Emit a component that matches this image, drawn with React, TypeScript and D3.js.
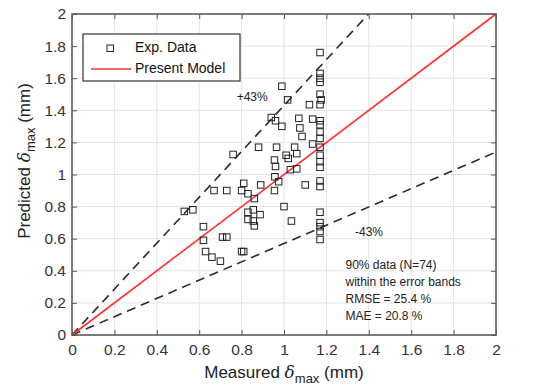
import React, { useEffect, useRef } from 'react';
import * as d3 from 'd3';

// measured vs predicted delta max (mm)
const measured = [
  0.53, 0.57, 0.62, 0.62, 0.63, 0.66, 0.70, 0.71, 0.73, 0.80, 0.81, 0.67, 0.73, 0.80, 0.81, 0.83, 0.86, 0.89,
  0.83, 0.855, 0.887, 0.83, 0.855, 0.86,
  0.955, 0.975, 1.0, 1.035, 1.10,
  0.76, 0.88, 0.965, 1.05, 1.06, 1.01, 1.02, 0.955, 0.96, 1.03, 1.06, 0.957, 1.135,
  0.94, 0.96, 0.99, 0.99, 1.017, 1.12, 1.07, 1.075, 1.085, 1.135,
  1.17, 1.17, 1.17, 1.17, 1.17, 1.175, 1.17, 1.17, 1.17, 1.17, 1.17, 1.17, 1.17, 1.17, 1.17, 1.17, 1.17, 1.17,
  1.17, 1.17, 1.17, 1.17,
];
const predicted = [
  0.77, 0.78, 0.675, 0.59, 0.52, 0.485, 0.46, 0.61, 0.61, 0.52, 0.52, 0.90, 0.90, 0.90, 0.945, 0.88, 0.85, 0.935,
  0.765, 0.78, 0.75, 0.72, 0.71, 0.68,
  0.90, 0.955, 0.80, 0.71, 0.935,
  1.125, 1.17, 1.17, 1.17, 1.13, 1.12, 1.10, 1.09, 1.05, 1.03, 1.035, 0.986, 1.19,
  1.355, 1.335, 1.30, 1.55, 1.465, 1.435, 1.35, 1.29, 1.237, 1.345,
  1.76, 1.63, 1.60, 1.575, 1.50, 1.465, 1.435, 1.335, 1.31, 1.265, 1.225, 1.17, 1.12, 1.08, 1.045, 0.96, 0.925, 0.765,
  0.70, 0.675, 0.645, 0.595,
];
const ticks = [0, 0.2, 0.4, 0.6, 0.8, 1, 1.2, 1.4, 1.6, 1.8, 2];
const legendLabels = ['Exp. Data', 'Present Model'];
const bandFactors = [1.43, 0.57];
const bandLabels = ['+43%', '-43%'];
const statsLines = ['90% data (N=74)', 'within the error bands', 'RMSE = 25.4 %', 'MAE = 20.8 %'];

export default function App() {
  const ref = useRef<SVGSVGElement>(null);

  useEffect(() => {
    if (!ref.current) return;
    const svg = d3.select(ref.current);
    svg.selectAll('*').remove();

    const W = 542, H = 389;
    const margin = { top: 14, right: 46, bottom: 54, left: 72 };
    const width = W - margin.left - margin.right;
    const height = H - margin.top - margin.bottom;
    const font = '"Liberation Sans", Arial, sans-serif';

    svg.attr('width', W).attr('height', H).attr('viewBox', `0 0 ${W} ${H}`);
    svg.append('rect').attr('width', W).attr('height', H).attr('fill', '#fff');

    const x = d3.scaleLinear().domain([0, 2]).range([0, width]);
    const y = d3.scaleLinear().domain([0, 2]).range([height, 0]);

    const g = svg.append('g').attr('transform', `translate(${margin.left},${margin.top})`);

    // grid
    g.selectAll('.gx').data(ticks.slice(1, -1)).enter().append('line')
      .attr('x1', d => x(d)).attr('x2', d => x(d)).attr('y1', 0).attr('y2', height)
      .attr('stroke', '#e3e3e3').attr('stroke-width', 1);
    g.selectAll('.gy').data(ticks.slice(1, -1)).enter().append('line')
      .attr('y1', d => y(d)).attr('y2', d => y(d)).attr('x1', 0).attr('x2', width)
      .attr('stroke', '#e3e3e3').attr('stroke-width', 1);

    // axes with inner ticks on all sides
    const styleAxis = (sel: d3.Selection<SVGGElement, unknown, null, undefined>, hide: boolean) => {
      sel.select('.domain').remove();
      sel.selectAll('line').attr('stroke', '#555').attr('stroke-width', 1);
      sel.selectAll('text').attr('fill', '#333').attr('font-size', '15.5px').attr('font-family', font);
      if (hide) sel.selectAll('text').remove();
    };
    const fmt = d3.format('');
    g.append('g').attr('transform', `translate(0,${height})`)
      .call(d3.axisBottom(x).tickValues(ticks).tickSizeInner(-5).tickSizeOuter(0).tickPadding(9).tickFormat(d => fmt(d as number)))
      .call(s => styleAxis(s, false));
    g.append('g')
      .call(d3.axisLeft(y).tickValues(ticks).tickSizeInner(-5).tickSizeOuter(0).tickPadding(6).tickFormat(d => fmt(d as number)))
      .call(s => styleAxis(s, false));
    g.append('g')
      .call(d3.axisTop(x).tickValues(ticks).tickSizeInner(-5).tickSizeOuter(0))
      .call(s => styleAxis(s, true));
    g.append('g').attr('transform', `translate(${width},0)`)
      .call(d3.axisRight(y).tickValues(ticks).tickSizeInner(-5).tickSizeOuter(0))
      .call(s => styleAxis(s, true));

    // error bands
    bandFactors.forEach(f => {
      const xEnd = Math.min(2, 2 / f);
      g.append('line')
        .attr('x1', x(0)).attr('y1', y(0)).attr('x2', x(xEnd)).attr('y2', y(xEnd * f))
        .attr('stroke', '#2a2a2a').attr('stroke-width', 1.6).attr('stroke-dasharray', '9,6');
    });

    // present model
    g.append('line')
      .attr('x1', x(0)).attr('y1', y(0)).attr('x2', x(2)).attr('y2', y(2))
      .attr('stroke', '#ff3030').attr('stroke-width', 1.6);

    // data points
    const s = 6.5;
    g.selectAll('.pt').data(measured.map((m, i) => [m, predicted[i]])).enter().append('rect')
      .attr('x', d => x(d[0]) - s / 2).attr('y', d => y(d[1]) - s / 2)
      .attr('width', s).attr('height', s)
      .attr('fill', 'none').attr('stroke', '#222').attr('stroke-width', 1);

    // box
    g.append('rect').attr('width', width).attr('height', height)
      .attr('fill', 'none').attr('stroke', '#5a5a5a').attr('stroke-width', 1.6);

    // band labels
    g.append('text').attr('x', x(0.85)).attr('y', y(1.475)).attr('text-anchor', 'middle')
      .attr('dominant-baseline', 'middle').attr('font-size', '12px').attr('font-family', font).attr('fill', '#222')
      .text(bandLabels[0]);
    g.append('text').attr('x', x(1.335)).attr('y', y(0.635))
      .attr('dominant-baseline', 'middle').attr('font-size', '12px').attr('font-family', font).attr('fill', '#222')
      .text(bandLabels[1]);

    // stats text
    statsLines.forEach((t, i) => {
      g.append('text').attr('x', x(1.29)).attr('y', y(0.43) + i * 17)
        .attr('dominant-baseline', 'middle').attr('font-size', '12px').attr('font-family', font).attr('fill', '#222')
        .text(t);
    });

    // legend
    const lg = svg.append('g').attr('transform', 'translate(83,34)');
    lg.append('rect').attr('width', 157).attr('height', 47)
      .attr('fill', '#fff').attr('stroke', '#333').attr('stroke-width', 1.2);
    lg.append('rect').attr('x', 24).attr('y', 11).attr('width', s).attr('height', s)
      .attr('fill', 'none').attr('stroke', '#222').attr('stroke-width', 1);
    lg.append('line').attr('x1', 8).attr('x2', 48).attr('y1', 35).attr('y2', 35)
      .attr('stroke', '#ff3030').attr('stroke-width', 1.6);
    legendLabels.forEach((t, i) => {
      lg.append('text').attr('x', 52).attr('y', 14 + i * 21).attr('dominant-baseline', 'middle')
        .attr('font-size', '14px').attr('font-family', font).attr('fill', '#111').text(t);
    });

    // axis titles
    const xt = svg.append('text').attr('x', margin.left + width / 2).attr('y', 378)
      .attr('text-anchor', 'middle').attr('font-size', '17px').attr('font-family', font).attr('fill', '#222');
    xt.append('tspan').text('Measured ');
    xt.append('tspan').attr('font-style', 'italic').attr('font-family', '"DejaVu Serif", serif').text('δ');
    xt.append('tspan').attr('font-size', '13px').attr('dy', 5).text('max');
    xt.append('tspan').attr('dy', -5).text(' (mm)');

    const yt = svg.append('text').attr('transform', 'translate(30,161) rotate(-90)')
      .attr('text-anchor', 'middle').attr('font-size', '17px').attr('font-family', font).attr('fill', '#222');
    yt.append('tspan').text('Predicted ');
    yt.append('tspan').attr('font-style', 'italic').attr('font-family', '"DejaVu Serif", serif').text('δ');
    yt.append('tspan').attr('font-size', '13px').attr('dy', 5).text('max');
    yt.append('tspan').attr('dy', -5).text(' (mm)');
  }, []);

  return (
    <svg ref={ref} style={{ position: 'absolute', left: 0, top: 0, display: 'block' }}></svg>
  );
}
